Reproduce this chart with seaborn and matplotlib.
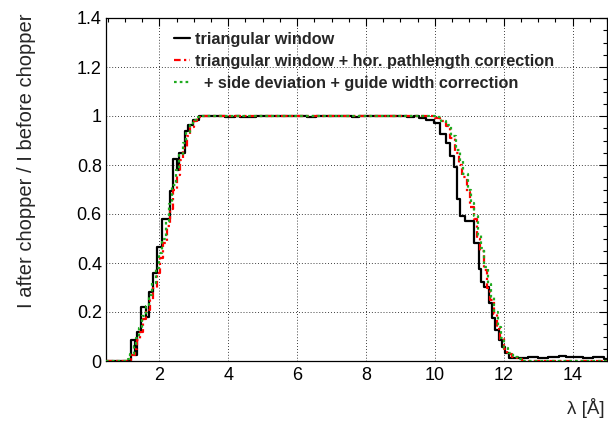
import numpy as np
import pandas as pd
import matplotlib
matplotlib.use("Agg")
import matplotlib.pyplot as plt
from matplotlib.ticker import MultipleLocator, FuncFormatter
import seaborn as sns

# ---- data (step start positions in Angstrom and bin values) ----
black_lam = [0.45, 1.18, 1.30, 1.36, 1.47, 1.60, 1.70, 1.82, 1.92, 2.09, 2.31, 2.40, 2.51, 2.58,
             2.73, 2.84, 2.98, 3.15, 3.90, 4.20, 4.35, 4.80, 5.10, 6.30, 6.55, 7.60, 7.80,
             9.20, 9.40, 9.55, 9.75, 9.97, 10.16, 10.31, 10.45, 10.55, 10.65, 10.74, 10.89,
             11.13, 11.27, 11.35, 11.42, 11.56, 11.66, 11.76, 11.86, 11.95, 12.05, 12.15,
             12.40, 12.70, 13.00, 13.30, 13.60, 13.80, 14.00, 14.30, 14.60, 14.90, 15.00]
black_val = [0.0, 0.085, 0.025, 0.12, 0.22, 0.18, 0.28, 0.36, 0.465, 0.58, 0.695, 0.825, 0.78, 0.85,
             0.94, 0.965, 0.985, 1.0, 0.995, 1.0, 0.994, 0.998, 1.0, 0.996, 1.0, 0.997, 1.0,
             0.994, 0.998, 0.99, 0.985, 0.973, 0.926, 0.891, 0.837, 0.79, 0.661, 0.593, 0.573,
             0.48, 0.377, 0.322, 0.302, 0.235, 0.174, 0.126, 0.085, 0.058, 0.031, 0.011,
             0.012, 0.015, 0.012, 0.015, 0.02, 0.015, 0.018, 0.012, 0.015, 0.01, 0.01]

red_lam = [0.45, 1.10, 1.18, 1.28, 1.34, 1.44, 1.53, 1.62, 1.72, 1.82, 1.92, 2.02, 2.11, 2.21,
           2.31, 2.40, 2.50, 2.60, 2.70, 2.80, 2.90, 3.00, 3.10, 3.20, 9.80, 10.00, 10.16,
           10.31, 10.45, 10.60, 10.70, 10.79, 10.93, 11.03, 11.13, 11.22, 11.32, 11.42, 11.52,
           11.61, 11.71, 11.81, 11.90, 12.00, 12.10, 12.24, 12.39, 12.54, 15.00]
red_val = [0.0, 0.005, 0.025, 0.05, 0.085, 0.12, 0.17, 0.21, 0.25, 0.30, 0.36, 0.42, 0.48, 0.55,
           0.62, 0.70, 0.76, 0.82, 0.87, 0.92, 0.955, 0.98, 0.995, 1.0, 0.998, 0.99, 0.98,
           0.96, 0.91, 0.85, 0.80, 0.75, 0.69, 0.63, 0.58, 0.50, 0.45, 0.37, 0.30,
           0.25, 0.19, 0.13, 0.09, 0.05, 0.03, 0.015, 0.007, 0.0, 0.0]

green_lam = [0.45, 1.08, 1.16, 1.26, 1.33, 1.42, 1.51, 1.60, 1.70, 1.80, 1.90, 2.00, 2.09, 2.19,
             2.29, 2.38, 2.48, 2.58, 2.68, 2.78, 2.88, 2.98, 3.08, 3.18, 10.00, 10.18,
             10.33, 10.47, 10.62, 10.72, 10.81, 10.95, 11.05, 11.15, 11.24, 11.34, 11.44, 11.54,
             11.63, 11.73, 11.83, 11.92, 12.02, 12.12, 12.26, 12.41, 12.56, 15.00]
green_val = [0.0, 0.008, 0.03, 0.06, 0.095, 0.135, 0.185, 0.225, 0.27, 0.32, 0.38, 0.44, 0.50, 0.57,
             0.64, 0.72, 0.78, 0.84, 0.89, 0.935, 0.965, 0.985, 0.997, 1.002, 0.995, 0.98,
             0.965, 0.92, 0.86, 0.815, 0.765, 0.70, 0.645, 0.59, 0.515, 0.46, 0.385, 0.315,
             0.26, 0.20, 0.14, 0.095, 0.055, 0.032, 0.016, 0.007, 0.0, 0.0]

labels = ["triangular window",
          "triangular window + hor. pathlength correction",
          "  + side deviation + guide width correction"]
x_ticks = [2, 4, 6, 8, 10, 12, 14]
y_ticks = [0, 0.2, 0.4, 0.6, 0.8, 1.0, 1.2, 1.4]

# ---- style ----
sns.set_style("white")
plt.rcParams["font.family"] = ["Liberation Sans", "DejaVu Sans"]

fig = plt.figure(figsize=(6.08, 4.24), dpi=100)
ax = fig.add_axes([106 / 608, 1 - 361 / 424, (607 - 106) / 608, (361 - 18) / 424])

df_b = pd.DataFrame({"lam": black_lam, "v": black_val})
df_r = pd.DataFrame({"lam": red_lam, "v": red_val})
df_g = pd.DataFrame({"lam": green_lam, "v": green_val})

sns.lineplot(data=df_b, x="lam", y="v", ax=ax, color="black", lw=1.6,
             drawstyle="steps-post", estimator=None, errorbar=None, sort=False, zorder=3)
sns.lineplot(data=df_r, x="lam", y="v", ax=ax, color="#ff0000", lw=1.6,
             linestyle=(0, (3, 1.5, 1, 1.5)),
             drawstyle="steps-post", estimator=None, errorbar=None, sort=False, zorder=4)
sns.lineplot(data=df_g, x="lam", y="v", ax=ax, color="#1faa1f", lw=1.6,
             linestyle=(0, (1.2, 1.4)),
             drawstyle="steps-post", estimator=None, errorbar=None, sort=False, zorder=5)

ax.set_xlim(0.45, 15.0)
ax.set_ylim(0, 1.4)
ax.set_xticks(x_ticks)
ax.set_yticks(y_ticks)
ax.xaxis.set_minor_locator(MultipleLocator(0.5))
ax.yaxis.set_minor_locator(MultipleLocator(0.05))
ax.yaxis.set_major_formatter(FuncFormatter(lambda v, p: "{:g}".format(round(v, 2))))
ax.xaxis.set_major_formatter(FuncFormatter(lambda v, p: "{:g}".format(v)))
ax.tick_params(which="both", direction="in", top=True, right=True, colors="black",
               labelsize=13)
ax.tick_params(which="major", length=5.5, width=0.8)
ax.tick_params(which="minor", length=2.8, width=0.8)
ax.tick_params(axis="x", which="major", pad=4)
ax.tick_params(axis="y", which="major", pad=3)
for s in ax.spines.values():
    s.set_color("black")
    s.set_linewidth(0.9)
ax.grid(True, which="major", color="black", linestyle=(0, (1, 2.5)), lw=0.6)
ax.set_xlabel("")
ax.set_ylabel("")

fig.text(605 / 608, 1 - 408 / 424, "λ [Å]", ha="right", va="center", fontsize=13.5)
fig.text(27 / 608, 1 - 13 / 424, "I after chopper / I before chopper", rotation=90,
         ha="center", va="top", fontsize=14.5)

handles = ax.get_lines()[:3]
leg = ax.legend(handles, labels, loc="upper left", bbox_to_anchor=(68 / 501, 1 - 14 / 343),
                frameon=False, prop={"weight": "bold", "size": 11.7},
                handlelength=1.0, handletextpad=0.3, labelspacing=0.42, borderaxespad=0,
                borderpad=0)

fig.savefig("out.png", dpi=100)
